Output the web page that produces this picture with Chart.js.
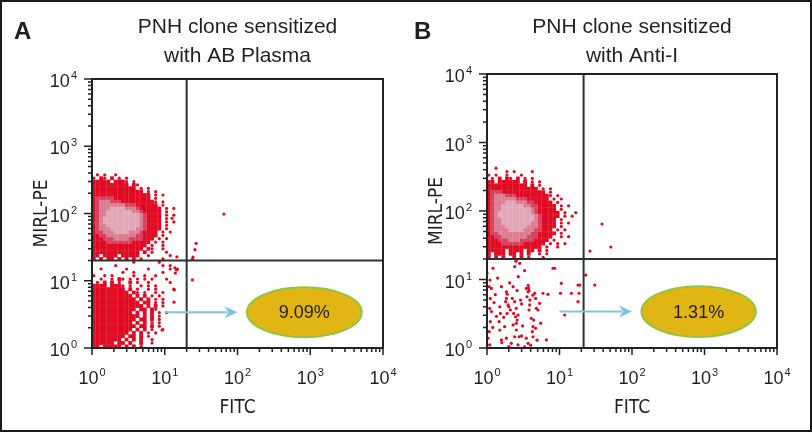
<!DOCTYPE html>
<html>
  <head>
    <title>PNH clone sensitization</title>
    <script src="https://cdn.jsdelivr.net/npm/chart.js"></script>
    <style>
      body { margin: 0; background: #fff; }
      #wrap { position: relative; width: 812px; height: 432px; overflow: hidden; }
      #wrap canvas { position: absolute; top: 0; }
      #frame {
        position: absolute; left: 0; top: 0; width: 812px; height: 432px;
        box-sizing: border-box; border: 2px solid #1a1a1a; pointer-events: none;
      }
    </style>
  </head>
  <body>
    <div id="wrap">
      <canvas id="chartA" width="406" height="432" style="left:0"></canvas>
      <canvas id="chartB" width="406" height="432" style="left:406px"></canvas>
      <div id="frame"></div>
    </div>
    <script>
      // --- data ---
      const panelLetters = ["A", "B"];
      const titleLines = [
        ["PNH clone sensitized", "with AB Plasma"],
        ["PNH clone sensitized", "with Anti-I"],
      ];
      const percentLabels = ["9.09%", "1.31%"];
      const tickExps = [0, 1, 2, 3, 4];
      const gateA = { x: 20, y: 20 };
      const gateB = { x: 21.5, y: 20 };

      // density grids, cells 0.05 decade wide; rows from top. 1 sparse, 2 red, 3..5 pink core
      const STEP = 0.05;
      const cloudAUpperTop = 2.6;
      const cloudAUpper = [
        ".1.1..1",
        "1.21.2.1.1",
        "22222.2221.1",
        "2222222222.21",
        "222222222222.1.1",
        "22222222222222.1.1",
        "2222222222222222.1.1",
        "2333332222222222.1",
        "234443332222222221.1",
        "234444444333222222.1",
        "2344455554443222222.1.1",
        "2344555555544322222.1",
        "2344555555555432222.1.1",
        "2345555555555432222.1",
        "2345555555555432222.1.1",
        "2344555555555432222.1",
        "2344455555554432222.1",
        "233444555544432222.1.1",
        "223344444444332222.1",
        "22233344443333222.1.1",
        "2222333333322222.1.1",
        "222222222222222.1..1",
        "22222222222222.21..1",
        "2222222222222.2.1...1",
        "22.2222.22222..1.....1",
        "2.2.22.2.2.2.1.....1",
      ];
      const cloudALowerTop = 1.3;
      const cloudALower = [
        "...........1......1",
        "......1............1.1",
        "..1......1.....1.....1.1",
        "........1..1.......1",
        "1..1.1.....1..1..1",
        "..1..1.21.1.1.1.1...1",
        ".1.2.2.1..2.1..1.....1",
        "2222.2221.1..1.1.1",
        "222222222.2.1..1.1....1",
        "2222222222.21.1..1.1",
        "22222222222.2.2.1.1",
        "222222222222.2.2.1.1",
        "2222222222222.22.1.1",
        "22222222222222.2.2.1",
        "222222222222.22.21",
        "22222222222.2.2.2.1.1",
        "2222222222222.2.2.1",
        "222222222222.22.2.1",
        "22222222222.2.2.1.1",
        "222222222222.22.2.1",
        "22222222222.2.2.1..1",
        "2222222222.2.2.1.1",
        "222222222.22.2.1",
        "22222222.2.2.2..1",
        "222222.22.2..2..1",
        "22.22222.2.2.1",
      ];
      const cloudBUpperTop = 2.65;
      const cloudBUpper = [
        "..1",
        ".....1.1....1",
        "1.1..1...1",
        ".1.2.21.2.1.1",
        "22.222222.2.1.1",
        "22222222222.2.1",
        "22222222222222.1.1",
        "2333222222222222.1",
        "234443332222222221.1",
        "23444444333222222.1.1",
        "234445554443322222.1",
        "2344555555443322222.1.1",
        "2344555555554322222.1",
        "23455555555543222222.1..1",
        "23455555555554322222.1.1",
        "2344555555555432222.1",
        "2344555555554432222.1.1",
        "2344455555544432222.1",
        "234444555544433222.1.1",
        "2334444444443322222.1",
        "223344444443332222..1.1",
        "22233344433332222.1",
        "2222333333222222.1.1.1",
        "222222222222222.1..1",
        "22222.2222.22.2.1",
        "2.222.22.2.2..1.1",
        "2.2.2..2.2.1...1",
      ];
      // stray events [FITC, MIRL-PE]
      const strayA = [
        [65, 98], [27, 36], [26, 29], [24.5, 22.5], [24, 21], [24, 10.3],
        [12.6, 85], [14.7, 22.6], [13.8, 15.5], [14.5, 14.5], [14, 13],
        [13.5, 7.3], [13.4, 4.8], [9.2, 1.85],
      ];
      const strayB = [
        [38.6, 64.6], [51, 29.8], [26.3, 26],
        [1.21, 14.6], [1.07, 7.85], [1.15, 7.4], [1.11, 5.3], [1.09, 3.8], [1.15, 3.4],
        [1.11, 2.42], [1.07, 1.73], [1.09, 1.11], [1.03, 1.39],
        [1.58, 7.85], [1.5, 4.0], [1.53, 3.2], [1.47, 2.42], [1.5, 1.83], [1.58, 1.31],
        [1.85, 5.3], [1.81, 4.74], [1.95, 4.25], [1.89, 3.2], [1.75, 2.05], [1.85, 1.39],
        [2.29, 7.85], [2.23, 5.3], [2.41, 4.74], [2.33, 3.2], [2.48, 2.86], [2.29, 2.17],
        [2.41, 1.46], [2.16, 1.17], [2.54, 3.8], [2.68, 3.03], [2.6, 2.56], [2.54, 2.29],
        [2.54, 1.83], [2.77, 1.46], [2.68, 1.11],
        [3.48, 7.4], [3.68, 6.6], [3.56, 5.6], [3.88, 4.25], [3.8, 3.59], [4.08, 2.71],
        [4.31, 2.05], [4.22, 1.73], [3.48, 1.39], [3.68, 1.17], [3.31, 1.04],
        [4.55, 6.3], [4.69, 5.3], [4.79, 3.8], [5.05, 3.59], [5.32, 4.49], [4.4, 2.56],
        [4.69, 1.94], [4.31, 1.46], [5.92, 6.3], [6.93, 6.08], [6.58, 1.31],
        [8.13, 14.6], [8.58, 14.6], [10.6, 8.8], [10.3, 6.3], [11.8, 3.03],
        [2.54, 19.3], [2.83, 17.2], [2.41, 15.4], [2.5, 18.5],
        [14.6, 6.3], [18, 8.3], [19, 8.3], [18.6, 6.3], [18, 4.74], [23, 11.6], [30.6, 8.3],
        [3.7, 8.2], [3.75, 7.5], [3.8, 6.9], [1.85, 6.6], [1.9, 6.1], [2.0, 4.0], [2.1, 3.6],
        [2.9, 5.0], [3.0, 4.4], [3.1, 2.1], [1.3, 6.0], [1.25, 4.6], [1.35, 2.9], [1.2, 2.0],
        [1.6, 1.2], [2.0, 1.05], [3.0, 1.5], [4.0, 1.1], [5.5, 2.3], [4.9, 1.3], [1.4, 10.5],
        [1.0, 12.3], [1.1, 9.8], [3.3, 13.5], [2.7, 11], [2.05, 8.9], [3.9, 5.0], [4.3, 5.9],
        [2.6, 6.9], [1.7, 2.8],
      ];

      // --- styles ---
      const levelStyle = {
        "1": { color: "#E00A22", style: "circle", r: 1.6 },
        "2": { color: "#E00A22", style: "rect", r: 2.7 },
        "3": { color: "#D9405F", style: "rect", r: 2.7 },
        "4": { color: "#DA7E94", style: "rect", r: 2.7 },
        "5": { color: "#E2A7B7", style: "rect", r: 2.7 },
      };
      const ink = "#231F20";
      const sans = '"Liberation Sans", Arial, sans-serif';
      const narrow = '"Liberation Sans Narrow", "DejaVu Sans Condensed", sans-serif';

      function gridPoints(grids, level) {
        const pts = [];
        grids.forEach(([rows, top]) => {
          rows.forEach((row, j) => {
            for (let i = 0; i < row.length; i++) {
              if (row[i] === level) {
                pts.push({ x: Math.pow(10, (i + 0.5) * STEP), y: Math.pow(10, top - (j + 0.5) * STEP) });
              }
            }
          });
        });
        return pts;
      }

      function buildDatasets(grids, stray, gate) {
        const sets = [];
        ["2", "3", "4", "5", "1"].forEach((lv, k) => {
          const st = levelStyle[lv];
          let data = gridPoints(grids, lv);
          if (lv === "1") data = data.concat(stray.map(([x, y]) => ({ x, y })));
          sets.push({
            data,
            pointStyle: st.style,
            pointRadius: st.r,
            pointBackgroundColor: st.color,
            pointBorderWidth: 0,
            showLine: false,
            order: 10 - k,
            clip: 1,
          });
        });
        // quadrant gates
        const gateLine = (data) => ({
          data, showLine: true, borderColor: "#2A3333", borderWidth: 2,
          pointRadius: 0, order: 0, clip: 0,
        });
        sets.push(gateLine([{ x: gate.x, y: 1 }, { x: gate.x, y: 10000 }]));
        sets.push(gateLine([{ x: 1, y: gate.y }, { x: 10000, y: gate.y }]));
        return sets;
      }

      function powLabel(ctx, exp, x, y, align) {
        ctx.font = "18px " + sans;
        const wb = ctx.measureText("10").width;
        ctx.font = "11px " + sans;
        const we = ctx.measureText(String(exp)).width;
        const x0 = align === "right" ? x - wb - we - 1 : x - (wb + we + 1) / 2;
        ctx.textAlign = "left";
        ctx.textBaseline = "alphabetic";
        ctx.font = "18px " + sans;
        ctx.fillText("10", x0, y);
        ctx.font = "11px " + sans;
        ctx.fillText(String(exp), x0 + wb + 1, y - 8);
      }

      function decorPlugin(idx) {
        return {
          id: "decor" + idx,
          afterDraw(chart) {
            const { ctx, chartArea: a, scales } = chart;
            const xs = scales.x, ys = scales.y;
            ctx.save();

            // annotation arrow + ellipse
            const ay = ys.getPixelForValue(3.4);
            const ax0 = xs.getPixelForValue(10), ax1 = xs.getPixelForValue(100);
            ctx.strokeStyle = "#7EC4EA";
            ctx.fillStyle = "#7EC4EA";
            ctx.lineWidth = 2;
            ctx.beginPath();
            ctx.moveTo(ax0, ay);
            ctx.lineTo(ax1 - 10, ay);
            ctx.stroke();
            ctx.beginPath();
            ctx.moveTo(ax1, ay);
            ctx.lineTo(ax1 - 13, ay - 6);
            ctx.lineTo(ax1 - 9, ay);
            ctx.lineTo(ax1 - 13, ay + 6);
            ctx.closePath();
            ctx.fill();

            const ex0 = xs.getPixelForValue(135), ex1 = xs.getPixelForValue(5100);
            const ey0 = ys.getPixelForValue(8.0), ey1 = ys.getPixelForValue(1.45);
            ctx.beginPath();
            ctx.ellipse((ex0 + ex1) / 2, (ey0 + ey1) / 2, (ex1 - ex0) / 2, (ey1 - ey0) / 2, 0, 0, Math.PI * 2);
            ctx.fillStyle = "#E1B514";
            ctx.fill();
            ctx.strokeStyle = "#8DC63F";
            ctx.lineWidth = 2;
            ctx.stroke();
            ctx.fillStyle = ink;
            ctx.font = "18px " + sans;
            ctx.textAlign = "center";
            ctx.textBaseline = "middle";
            ctx.fillText(percentLabels[idx], (ex0 + ex1) / 2, (ey0 + ey1) / 2 + 1);

            // plot frame
            ctx.strokeStyle = "#1E2424";
            ctx.lineWidth = 2;
            ctx.strokeRect(a.left, a.top, a.right - a.left, a.bottom - a.top);

            // log ticks
            ctx.lineWidth = 1.5;
            ctx.beginPath();
            tickExps.forEach((e) => {
              for (let k = 1; k <= (e < 4 ? 9 : 1); k++) {
                const v = k * Math.pow(10, e);
                const major = k === 1;
                const py = ys.getPixelForValue(v);
                ctx.moveTo(a.left, py);
                ctx.lineTo(a.left - (major ? 8 : 4), py);
                const px = xs.getPixelForValue(v);
                ctx.moveTo(px, a.bottom);
                ctx.lineTo(px, a.bottom + (major ? 7 : 4));
              }
            });
            ctx.stroke();

            // tick labels
            ctx.fillStyle = ink;
            tickExps.forEach((e) => {
              const v = Math.pow(10, e);
              powLabel(ctx, e, a.left - 15, ys.getPixelForValue(v) + 8, "right");
              powLabel(ctx, e, xs.getPixelForValue(v), a.bottom + 36, "center");
            });

            // axis titles
            const cx = (a.left + a.right) / 2;
            ctx.font = "19px " + narrow;
            ctx.textAlign = "center";
            ctx.textBaseline = "alphabetic";
            ctx.fillText("FITC", cx, a.bottom + 65);
            ctx.save();
            ctx.translate(a.left - 45, (a.top + a.bottom) / 2);
            ctx.rotate(-Math.PI / 2);
            ctx.fillText("MIRL-PE", 0, 0);
            ctx.restore();

            // titles and panel letter
            ctx.font = "21px " + sans;
            ctx.fillText(titleLines[idx][0], cx, 33);
            ctx.fillText(titleLines[idx][1], cx, 62);
            ctx.font = "bold 24px " + sans;
            ctx.textAlign = "left";
            ctx.fillText(panelLetters[idx], idx === 0 ? 14 : 8, 39);
            ctx.restore();
          },
        };
      }

      function makeChart(id, idx, datasets, padding) {
        return new Chart(document.getElementById(id), {
          type: "scatter",
          data: { datasets },
          options: {
            responsive: false,
            animation: false,
            events: [],
            layout: { padding },
            plugins: { legend: { display: false }, tooltip: { enabled: false } },
            scales: {
              x: { type: "logarithmic", min: 1, max: 10000, display: false },
              y: { type: "logarithmic", min: 1, max: 10000, display: false },
            },
          },
          plugins: [decorPlugin(idx)],
        });
      }

      makeChart(
        "chartA", 0,
        buildDatasets([[cloudAUpper, cloudAUpperTop], [cloudALower, cloudALowerTop]], strayA, gateA),
        { left: 92, right: 23, top: 79, bottom: 84 }
      );
      makeChart(
        "chartB", 1,
        buildDatasets([[cloudBUpper, cloudBUpperTop]], strayB, gateB),
        { left: 81, right: 35, top: 74, bottom: 84 }
      );
    </script>
  </body>
</html>
